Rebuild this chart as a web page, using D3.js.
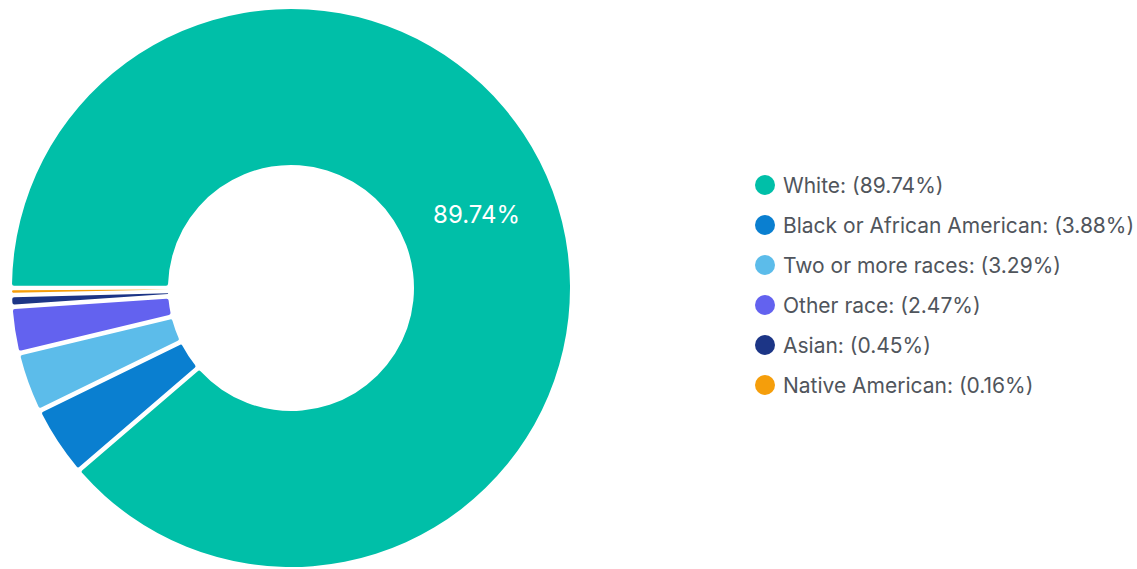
<!DOCTYPE html>
<html>
<head>
<meta charset="utf-8">
<script src="https://cdn.jsdelivr.net/npm/d3@7"></script>
<style>
  html, body { margin: 0; padding: 0; background: #ffffff; }
  svg { display: block; }
</style>
</head>
<body>
<svg id="chart" width="1137" height="569"></svg>
<script>
const categories = ["White", "Black or African American", "Two or more races", "Other race", "Asian", "Native American"];
const values = [89.74, 3.88, 3.29, 2.47, 0.45, 0.16];
const colors = ["#00bfa8", "#0a7fd0", "#5cbcea", "#6362ef", "#1c3586", "#f59e0b"];

const data = categories.map((c, i) => ({ name: c, value: values[i], color: colors[i] }));

const svg = d3.select("#chart");
const cx = 291, cy = 288;
const outerR = 279, innerR = 123;

const pie = d3.pie()
  .value(d => d.value)
  .sort(null)
  .padAngle(0.015)
  .startAngle(-Math.PI / 2)
  .endAngle(-Math.PI / 2 + 2 * Math.PI);

const arc = d3.arc().innerRadius(innerR).outerRadius(outerR).cornerRadius(2);
const labelArc = d3.arc().innerRadius(200).outerRadius(200);

const g = svg.append("g").attr("transform", `translate(${cx},${cy})`);
const arcs = pie(data);

g.selectAll("path.slice")
  .data(arcs)
  .join("path")
  .attr("class", "slice")
  .attr("d", arc)
  .attr("fill", d => d.data.color);

// label only for the big slice
g.selectAll("text.pct")
  .data(arcs.filter(d => d.data.value > 10))
  .join("text")
  .attr("class", "pct")
  .attr("transform", d => {
    const [x, y] = labelArc.centroid(d);
    return `translate(${x - 2},${y - 4})`;
  })
  .attr("text-anchor", "middle")
  .attr("dominant-baseline", "central")
  .attr("font-family", "Inter, 'Noto Sans', sans-serif")
  .attr("font-size", 24)
  .attr("fill", "#ffffff")
  .text(d => d.data.value.toFixed(2) + "%");

// legend
const legendX = 765, legendY = 185, rowH = 40;
const legend = svg.append("g");
const rows = legend.selectAll("g.row")
  .data(data)
  .join("g")
  .attr("class", "row")
  .attr("transform", (d, i) => `translate(${legendX},${legendY + i * rowH})`);

rows.append("circle")
  .attr("r", 10)
  .attr("fill", d => d.color);

rows.append("text")
  .attr("x", 18)
  .attr("y", 0)
  .attr("dominant-baseline", "central")
  .attr("font-family", "Inter, 'Noto Sans', sans-serif")
  .attr("font-size", 21)
  .attr("fill", "#50555c")
  .text(d => `${d.name}: (${d.value.toFixed(2)}%)`);
</script>
</body>
</html>
